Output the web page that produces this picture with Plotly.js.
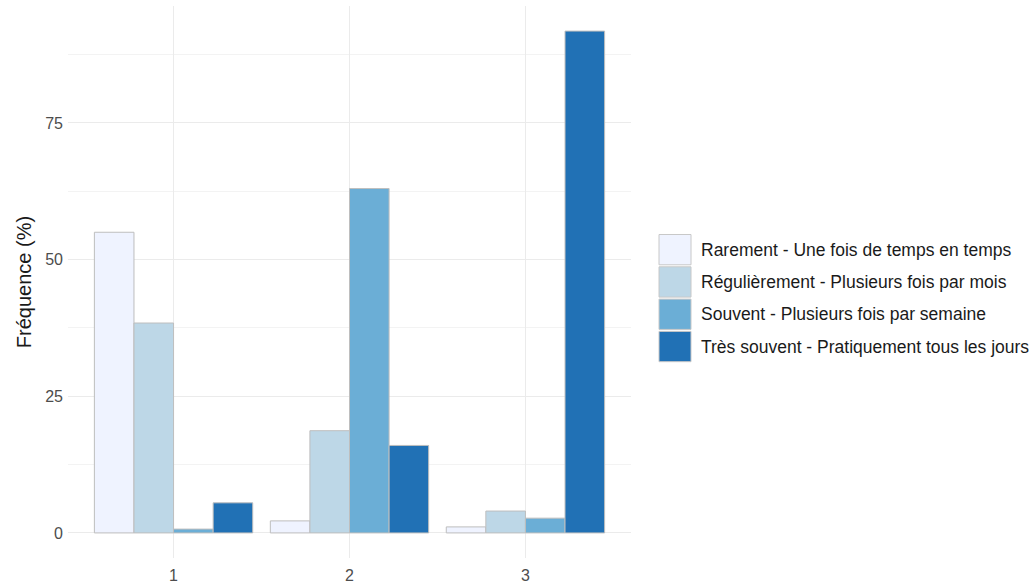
<!DOCTYPE html>
<html>
<head>
<meta charset="utf-8">
<script src="https://cdn.plot.ly/plotly-3.0.1.min.js"></script>
<style>html,body{margin:0;padding:0;background:#fff;}#chart{width:1035px;height:584px;}</style>
</head>
<body>
<div id="chart"></div>
<script>
const groups = ['1', '2', '3'];
const seriesNames = [
  'Rarement - Une fois de temps en temps',
  'Régulièrement - Plusieurs fois par mois',
  'Souvent - Plusieurs fois par semaine',
  'Très souvent - Pratiquement tous les jours'
];
const rarement = [55.0, 2.2, 1.1];
const regulierement = [38.4, 18.7, 4.0];
const souvent = [0.7, 63.0, 2.7];
const tresSouvent = [5.5, 16.0, 91.8];
const colors = ['#EFF3FF', '#BDD7E7', '#6BAED6', '#2171B5'];
const yTickVals = [0, 25, 50, 75];

const seriesValues = [rarement, regulierement, souvent, tresSouvent];
const traces = seriesValues.map((vals, i) => ({
  type: 'bar',
  name: seriesNames[i],
  x: groups,
  y: vals,
  marker: {color: colors[i], line: {color: '#BEBEBE', width: 1}},
  showlegend: false,
  hoverinfo: 'x+y+name'
}));

const maxV = Math.max(...seriesValues.flat());
const pad = maxV * 0.05;

const PL = 68, PR = 631, PT = 6, PB = 558;
const legendTop = 233.5, itemH = 32.3, boxL = 659, boxR = 691, W = 1035, H = 584;
const px = v => (v - PL) / (PR - PL);
const py = v => 1 - (v - PT) / (PB - PT);
const shapes = [];
const annotations = [];
seriesNames.forEach((nm, i) => {
  const y0 = legendTop + i * itemH;
  shapes.push({
    type: 'rect', xref: 'paper', yref: 'paper', layer: 'above',
    x0: px(boxL), x1: px(boxR),
    y0: py(y0 + 1), y1: py(y0 + itemH - 1),
    fillcolor: colors[i], line: {color: '#C8C8C8', width: 1}
  });
  annotations.push({
    xref: 'paper', yref: 'paper', xanchor: 'left', yanchor: 'middle',
    x: px(699), y: py(y0 + itemH / 2),
    text: nm, showarrow: false,
    font: {family: 'Liberation Sans, Arial, sans-serif', size: 17.5, color: '#1a1a1a'}
  });
});

const layout = {
  width: W, height: H,
  margin: {l: PL, r: W - PR, t: PT, b: H - PB},
  paper_bgcolor: '#ffffff', plot_bgcolor: '#ffffff',
  barmode: 'group', bargap: 0.1, bargroupgap: 0,
  font: {family: 'Liberation Sans, Arial, sans-serif'},
  xaxis: {
    type: 'category', range: [-0.6, 2.6],
    showgrid: true, gridcolor: '#EBEBEB', gridwidth: 1,
    zeroline: false, showline: false, ticks: '',
    ticklabelstandoff: 6,
    tickfont: {size: 16, color: '#4D4D4D'}
  },
  yaxis: {
    range: [-pad, maxV + pad],
    tickvals: yTickVals, ticktext: yTickVals.map(String),
    showgrid: true, gridcolor: '#EBEBEB', gridwidth: 1,
    minor: {tickvals: [12.5, 37.5, 62.5, 87.5], showgrid: true, gridcolor: '#F3F3F3', gridwidth: 1},
    zeroline: false, showline: false, ticks: '',
    ticklabelstandoff: 4,
    tickfont: {size: 16, color: '#4D4D4D'},
    title: {text: 'Fréquence (%)', font: {size: 20, color: '#1a1a1a'}, standoff: 8}
  },
  shapes: shapes,
  annotations: annotations
};

Plotly.newPlot('chart', traces, layout, {displayModeBar: false, staticPlot: true});
</script>
</body>
</html>
